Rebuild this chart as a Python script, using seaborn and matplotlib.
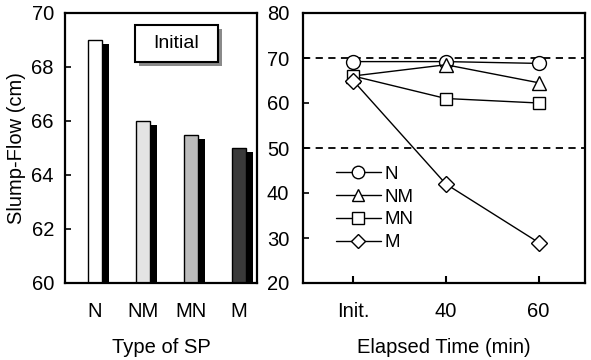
import matplotlib
matplotlib.use("Agg")
import matplotlib.pyplot as plt
import matplotlib.patheffects as pe
from matplotlib.lines import Line2D
from matplotlib.patches import Rectangle
import seaborn as sns
import pandas as pd

sp_types = ["N", "NM", "MN", "M"]
initial_flow = [69.0, 66.0, 65.5, 65.0]
bar_colors = ["#ffffff", "#e4e4e4", "#bcbcbc", "#3a3a3a"]

time_labels = ["Init.", "40", "60"]
series_names = ["N", "NM", "MN", "M"]
flow_N = [69.2, 69.2, 68.8]
flow_NM = [66.0, 68.5, 64.5]
flow_MN = [66.0, 61.0, 60.0]
flow_M = [65.0, 42.0, 29.0]
markers = {"N": "o", "NM": "^", "MN": "s", "M": "D"}
marker_sizes = {"N": 10, "NM": 10, "MN": 9, "M": 8}

sns.set_style("ticks")
plt.rcParams["font.family"] = ["Liberation Sans", "DejaVu Sans"]
plt.rcParams["font.size"] = 14
plt.rcParams["text.color"] = "black"
plt.rcParams["axes.labelcolor"] = "black"
plt.rcParams["xtick.color"] = "black"
plt.rcParams["ytick.color"] = "black"

FS = 14.5

fig = plt.figure(figsize=(5.91, 3.6), dpi=100)
ax1 = fig.add_axes([65 / 591, 77 / 360, 192 / 591, 270 / 360])
ax2 = fig.add_axes([303 / 591, 77 / 360, 282 / 591, 270 / 360])

# ---- left: bar chart ----
df_bar = pd.DataFrame({"type": sp_types, "flow": initial_flow})
sns.barplot(data=df_bar, x="type", y="flow", hue="type", palette=bar_colors,
            width=0.31, edgecolor="black", linewidth=1.0, legend=False, ax=ax1)
shadow = [pe.SimplePatchShadow(offset=(4.5, -3.0), shadow_rgbFace="black", alpha=1.0), pe.Normal()]
for p in ax1.patches:
    p.set_path_effects(shadow)
ax1.set_ylim(60, 70)
ax1.set_xlim(-0.625, 3.375)
ax1.set_yticks([60, 62, 64, 66, 68, 70])
ax1.set_ylabel("Slump-Flow (cm)", fontsize=FS, labelpad=4)
ax1.set_xlabel("Type of SP", fontsize=FS, labelpad=12)
ax1.tick_params(axis="y", direction="in", length=4, width=1.2, pad=8, labelsize=FS)
ax1.tick_params(axis="x", length=0, pad=14, labelsize=FS)

box = Rectangle((0.365, 0.819), 0.432, 0.137, transform=ax1.transAxes,
                fc="white", ec="black", lw=1.5, zorder=5, clip_on=False)
box.set_path_effects([pe.SimplePatchShadow(offset=(3.0, -3.0), shadow_rgbFace="#8a8a8a",
                                           alpha=1.0), pe.Normal()])
ax1.add_patch(box)
ax1.text(0.581, 0.887, "Initial", transform=ax1.transAxes, fontsize=14,
         va="center", ha="center", zorder=6)

# ---- right: line chart ----
rows = []
for name, vals in zip(series_names, [flow_N, flow_NM, flow_MN, flow_M]):
    for i, v in enumerate(vals):
        rows.append({"series": name, "t": i, "flow": v})
df_line = pd.DataFrame(rows)
for name in series_names:
    sub = df_line[df_line["series"] == name]
    sns.lineplot(data=sub, x="t", y="flow", color="black", marker=markers[name],
                 markersize=marker_sizes[name], markerfacecolor="white",
                 markeredgecolor="black", markeredgewidth=1.0, linewidth=1.0,
                 ax=ax2, legend=False)
ax2.axhline(70, color="black", ls=(0, (4, 3)), lw=1.3, zorder=1)
ax2.axhline(50, color="black", ls=(0, (4, 3)), lw=1.3, zorder=1)
ax2.set_ylim(20, 80)
ax2.set_xlim(-0.54, 2.5)
ax2.set_xticks([0, 1, 2])
ax2.set_xticklabels(time_labels)
ax2.set_yticks([20, 30, 40, 50, 60, 70, 80])
ax2.set_xlabel("Elapsed Time (min)", fontsize=FS, labelpad=12)
ax2.set_ylabel("")
ax2.tick_params(axis="y", direction="in", length=4, width=1.2, pad=10, labelsize=FS)
ax2.tick_params(axis="x", direction="in", length=5, width=1.5, pad=14, labelsize=FS)

handles = [Line2D([], [], color="black", lw=1.0, marker=markers[n], markersize=marker_sizes[n] - 1,
                  markerfacecolor="white", markeredgecolor="black") for n in series_names]
ax2.legend(handles, series_names, loc="lower left", bbox_to_anchor=(0.09, 0.09),
           frameon=False, fontsize=13.5, handlelength=2.4, handletextpad=0.2,
           labelspacing=0.3, borderaxespad=0)

for ax in (ax1, ax2):
    for s in ax.spines.values():
        s.set_visible(True)
        s.set_linewidth(1.6)
        s.set_color("black")

fig.savefig("out.png", dpi=100)
